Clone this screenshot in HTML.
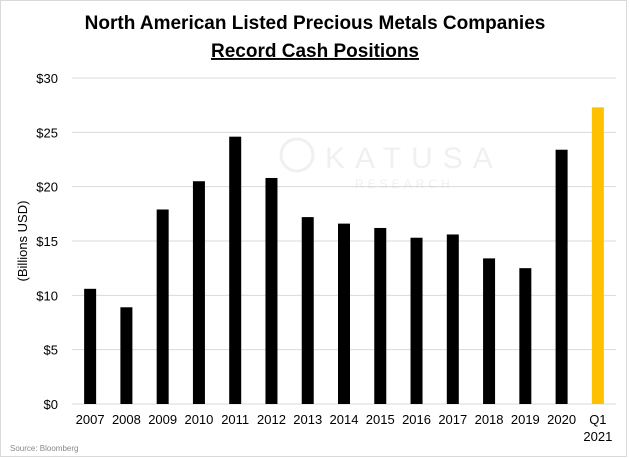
<!DOCTYPE html>
<html><head><meta charset="utf-8"><style>
body{margin:0;background:#fff;}
svg{display:block;font-family:"Liberation Sans",sans-serif;}
</style></head><body>
<svg width="629" height="458" viewBox="0 0 629 458">
<rect x="0.5" y="0.5" width="626" height="456" fill="#fff" stroke="#d9d9d9"/>
<text x="315" y="29" text-anchor="middle" font-size="19" font-weight="bold">North American Listed Precious Metals Companies</text>
<text x="315" y="57" text-anchor="middle" font-size="19" font-weight="bold" text-decoration="underline">Record Cash Positions</text>
<g id="grid"></g>
<g id="watermark" opacity="0.12">
<circle cx="297" cy="155" r="16" fill="none" stroke="#888" stroke-width="3"/>
<text x="325" y="168" font-size="30" fill="#888" letter-spacing="10">KATUSA</text>
<text x="355" y="188" font-size="12" fill="#888" letter-spacing="4">RESEARCH</text>
</g>
<g id="bars"></g>
<g id="ylabels" font-size="13" text-anchor="end"></g>
<g id="xlabels" font-size="13" text-anchor="middle"></g>
<text transform="translate(27,241) rotate(-90)" text-anchor="middle" font-size="13">(Billions USD)</text>
<text x="10" y="451" font-size="8" fill="#888">Source: Bloomberg</text>
</svg>
<script>
const categories=["2007","2008","2009","2010","2011","2012","2013","2014","2015","2016","2017","2018","2019","2020","Q1|2021"];
const values=[10.6,8.9,17.9,20.5,24.6,20.8,17.2,16.6,16.2,15.3,15.6,13.4,12.5,23.4,27.3];
const yTicks=[0,5,10,15,20,25,30];
const yTickLabels=["$0","$5","$10","$15","$20","$25","$30"];
const NS="http://www.w3.org/2000/svg";
const x0=72,x1=616,y0=404,yTop=78,ymax=30;
const y=v=>y0-(v/ymax)*(y0-yTop);
const band=(x1-x0)/categories.length;
const xc=i=>x0+band*(i+0.5);
function mk(t,a,p){const e=document.createElementNS(NS,t);for(const k in a)e.setAttribute(k,a[k]);p.appendChild(e);return e;}
const grid=document.getElementById('grid'),yl=document.getElementById('ylabels');
yTicks.forEach((t,i)=>{
 const l=mk('line',{x1:x0,x2:x1,y1:y(t),y2:y(t),stroke:'#d9d9d9','stroke-width':1},grid);
 
 
 const tx=mk('text',{x:58,y:y(t)+5},yl);tx.textContent=yTickLabels[i];
 
 
});
const bars=document.getElementById('bars'),xl=document.getElementById('xlabels');
categories.forEach((c,i)=>{
 const last=i===categories.length-1;
 const r=mk('rect',{x:xc(i)-6,y:y(values[i]),width:12,height:y0-y(values[i]),fill:last?'#ffc000':'#000'},bars);
 
 
 c.split('|').forEach((s,j)=>{
  const t=mk('text',{x:xc(i),y:424+j*17},xl);t.textContent=s;
  
  
 });
});
</script>
</body></html>
